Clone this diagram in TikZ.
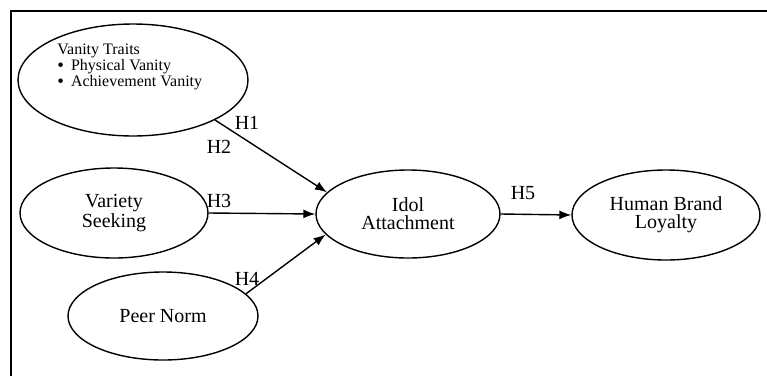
\documentclass[tikz,border=0pt]{standalone}
\usepackage{fontspec}
\setmainfont{Liberation Serif}
\usetikzlibrary{shapes.geometric}
\usetikzlibrary{arrows.meta}
\newcommand*{\lw   }{0.7pt}
\newcommand*{\nfont}{\fontsize{10}{9}\selectfont}
\newcommand*{\sfont}{\fontsize{8}{8}\selectfont}
\newcommand*{\bul  }{\raisebox{-0.7pt}{\fontsize{9.5}{8}\selectfont\textbullet}\hspace{3.5pt}}

\begin{document}
\begin{tikzpicture}[x=0.5pt, y=-0.5pt,
        construct/.style={ellipse, draw, line width=\lw, inner sep=0pt, align=center, font=\nfont},
        hyp/.style={font=\nfont, inner sep=0pt},
        path/.style={line width=\lw, -{Latex[length=6pt,width=4.5pt]}}]
    \useasboundingbox (0,0) rectangle (767,376);
    \draw [line width=1pt] (11,376) -- (11,11) -- (767,11);
        % antecedents
        \node [construct, minimum width=115pt, minimum height=56pt] (vanity)  at (133, 80) {};
        \node [anchor=west, align=left, font=\sfont, inner sep=0pt] (vantxt) at (57, 67)
            {Vanity Traits\\\bul Physical Vanity\\\bul Achievement Vanity};
        \node [construct, minimum width=94pt, minimum height=45pt] (variety) at (114,213) {Variety\\Seeking};
        \node [construct, minimum width=95pt, minimum height=44pt] (peer)    at (163,316) {Peer Norm};
        % mediator and outcome
        \node [construct, minimum width=92pt, minimum height=44pt] (idol)    at (408,214) {Idol\\Attachment};
        \node [construct, minimum width=94pt, minimum height=45pt] (loyalty) at (666,215) {Human Brand\\Loyalty};
        % paths
        \draw [path] (vanity.-26) -- (idol.165);
        \draw [path] (variety.east) -- (idol.west);
        \draw [path] (peer.15) -- (idol.194);
        \draw [path] (idol.east) -- (loyalty.west);
        \node [hyp] (h1) at (247,123) {H1};
        \node [hyp] (h2) at (219,147) {H2};
        \node [hyp] (h3) at (219,201) {H3};
        \node [hyp] (h4) at (247,279) {H4};
        \node [hyp] (h5) at (523,193) {H5};
    \end{tikzpicture}
\end{document}
